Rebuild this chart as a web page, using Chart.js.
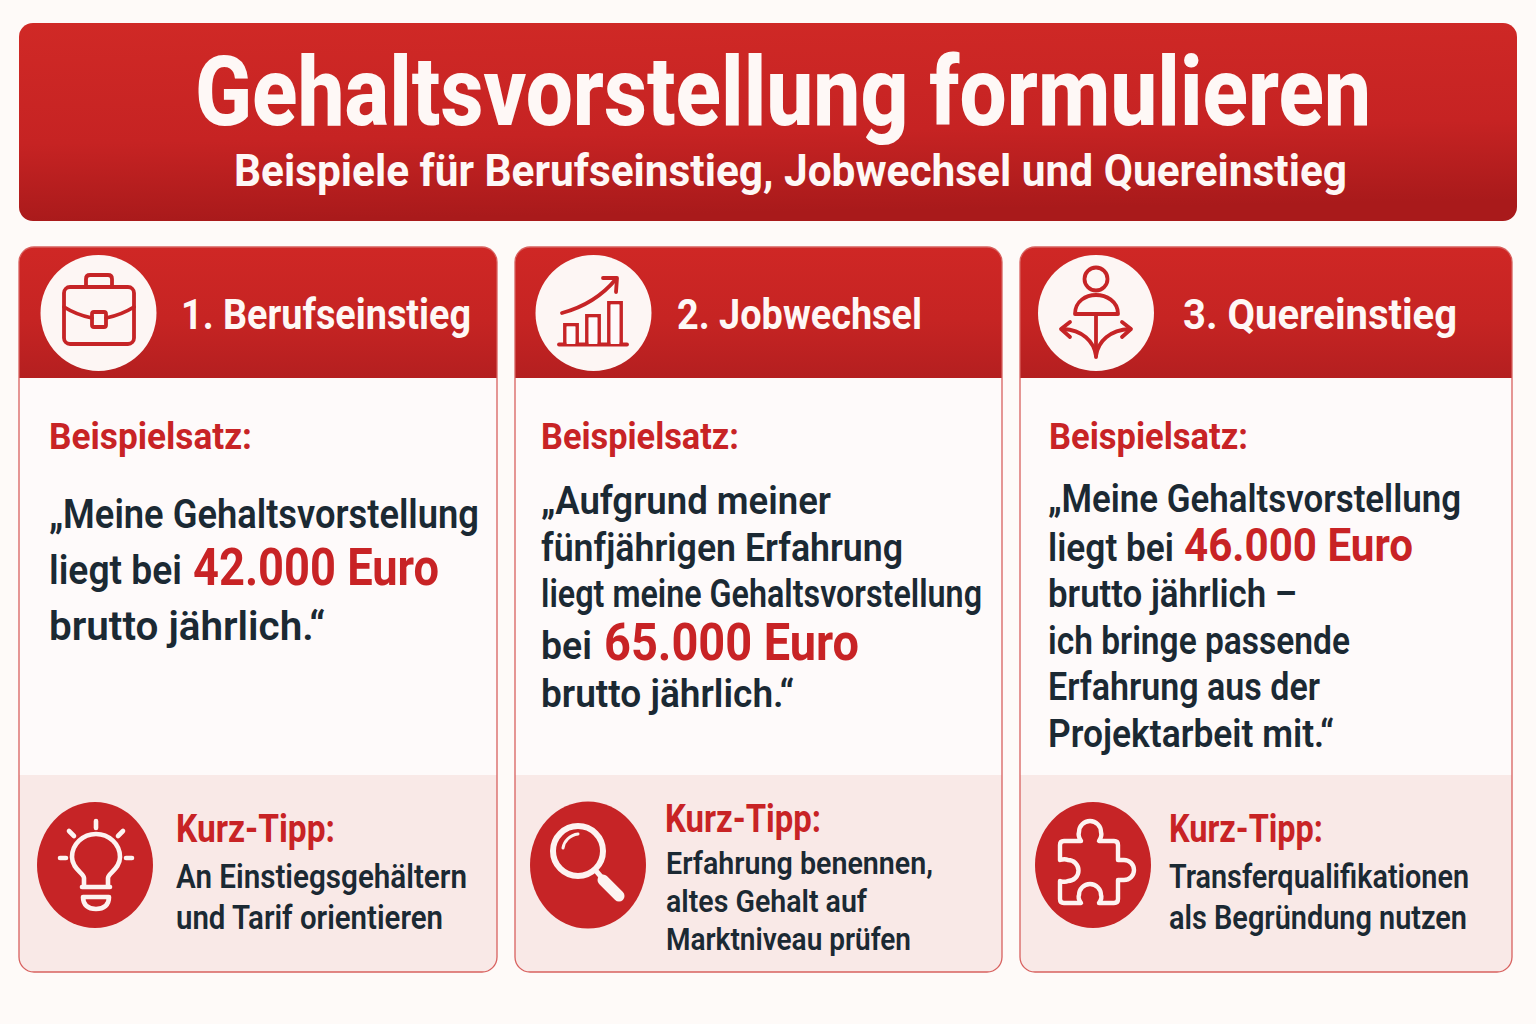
<!DOCTYPE html>
<html lang="de">
<head>
<meta charset="utf-8">
<title>Gehaltsvorstellung formulieren</title>
<script src="https://cdn.jsdelivr.net/npm/chart.js@4"></script>
<style>
html,body{margin:0;padding:0;background:#fefaf8;}
#page{position:relative;width:1536px;height:1024px;overflow:hidden;}
#art{position:absolute;left:0;top:0;}
#miniBars{position:absolute;left:560px;top:298px;}
text{font-family:Roboto,"Liberation Sans",sans-serif;}
</style>
</head>
<body>
<div id="page">
<svg id="art" width="1536" height="1024" viewBox="0 0 1536 1024" xmlns="http://www.w3.org/2000/svg">
  <defs>
    <linearGradient id="bannerFill" x1="0" y1="0" x2="0.12" y2="1">
      <stop offset="0" stop-color="#d02926"/>
      <stop offset="0.6" stop-color="#c62323"/>
      <stop offset="1" stop-color="#a91a1b"/>
    </linearGradient>
    <linearGradient id="headFill" x1="0" y1="0" x2="0" y2="1">
      <stop offset="0" stop-color="#cf2725"/>
      <stop offset="0.55" stop-color="#c62423"/>
      <stop offset="1" stop-color="#b41f20"/>
    </linearGradient>
    <clipPath id="clip1"><rect x="19" y="247" width="478" height="725" rx="15"/></clipPath>
    <clipPath id="clip2"><rect x="515" y="247" width="487" height="725" rx="15"/></clipPath>
    <clipPath id="clip3"><rect x="1020" y="247" width="492" height="725" rx="15"/></clipPath>
  </defs>

  <rect x="19" y="23" width="1498" height="198" rx="14" fill="url(#bannerFill)"/>

  <g id="cards"></g>

  <!-- Aktentasche -->
  <g fill="none" stroke="#c62426" stroke-width="3.8" stroke-linecap="round" stroke-linejoin="round">
    <rect x="64" y="287" width="70" height="57" rx="6"/>
    <path d="M86 287 V279 Q86 275 90 275 H108 Q112 275 112 279 V287"/>
    <path d="M64 307 C72 312 82 316 92 318 M106 318 C116 316 126 312 134 307"/>
    <rect x="92" y="312" width="14" height="15" rx="2"/>
  </g>

  <!-- Pfeil und Grundlinie ueber dem Balken-Icon -->
  <g fill="none" stroke="#c62426" stroke-width="3.8" stroke-linecap="round" stroke-linejoin="round">
    <path d="M562 313 C584 307 602 296 616 279"/>
    <path d="M603 278 H617 L616 292"/>
    <path d="M559 344.5 H627"/>
  </g>

  <!-- Person mit Wegen -->
  <g fill="none" stroke="#c62426" stroke-width="3.8" stroke-linecap="round" stroke-linejoin="round">
    <circle cx="1096" cy="279" r="11.5"/>
    <path d="M1075 314 C1075 301 1086 295 1096 295 C1106 295 1118 301 1118 314 Z"/>
    <path d="M1096 314 V357"/>
    <path d="M1096 356 C1094 341 1082 330 1063 329 M1096 356 C1098 341 1110 330 1130 329"/>
    <path d="M1070 322 L1061 329 L1070 337 M1122 322 L1131 329 L1122 337"/>
  </g>

  <!-- Gluehbirne -->
  <g fill="none" stroke="#fdf3f1" stroke-width="4.6" stroke-linecap="round" stroke-linejoin="round">
    <path d="M84 886 V878 C84 873 72 869 72 857 C72 844 83 834 96 834 C109 834 120 844 120 857 C120 869 108 873 108 878 V886"/>
    <path d="M82 887 H110"/>
    <path d="M83 897 H109 C109 905 104 909 96 909 C88 909 83 905 83 897 Z"/>
    <path d="M96 821 V828 M69 831 L74 836 M123 831 L118 836 M60 858 H66 M126 858 H132"/>
  </g>

  <!-- Lupe -->
  <g fill="none" stroke="#fdf3f1" stroke-linecap="round">
    <circle cx="578" cy="851" r="25" stroke-width="6"/>
    <path d="M563 848 C564 841 570 835 578 834" stroke-width="3"/>
    <path d="M597 872 L603 879" stroke-width="5"/>
    <path d="M603 880 L619 896" stroke-width="11"/>
  </g>

  <!-- Puzzleteil -->
  <path fill="none" stroke="#fdf3f1" stroke-width="4.4" stroke-linejoin="round"
    d="M1064 841 H1081 C1079 838 1078 835 1079 832 A11 11 0 0 1 1101 832 C1102 835 1101 838 1099 841 H1114 Q1118 841 1118 845 V860 C1120 860 1122 860 1124 860 A10 10 0 0 1 1124 880 C1122 880 1120 880 1118 880 V899 Q1118 903 1114 903 H1099 C1101 900 1102 897 1101 895 A11 11 0 0 0 1079 895 C1078 897 1079 900 1081 903 H1064 Q1060 903 1060 899 V881 C1063 882 1066 882 1068 881 A10.5 10.5 0 0 0 1068 860 C1066 859 1063 859 1060 860 V845 Q1060 841 1064 841 Z"/>

  <g id="labels"></g>
</svg>
<canvas id="miniBars" width="66" height="46"></canvas>
</div>

<script>
/* ==========================================
   DATEN
========================================== */
const barLabels = ["Stufe 1","Stufe 2","Stufe 3"];
const barValues = [21,30,43];

const salaries = [42000,65000,46000];

const cardTitles = ["1. Berufseinstieg","2. Jobwechsel","3. Quereinstieg"];

const RED = "#c82325";
const DARK = "#1b2933";
const WHITE = "#fef8f6";
const NS = "http://www.w3.org/2000/svg";

function euro(v){
  return v.toLocaleString("de-DE")+" Euro";
}

/* ==========================================
   FLAECHEN
========================================== */
function shape(parent,tag,attrs){
  const el = document.createElementNS(NS,tag);
  Object.keys(attrs).forEach(k=>el.setAttribute(k,attrs[k]));
  parent.appendChild(el);
  return el;
}

function drawCard(n,x,w,cx,tx,txRy){
  const g = document.getElementById("cards");
  const inner = shape(g,"g",{"clip-path":"url(#clip"+n+")"});
  shape(inner,"rect",{x:x,y:247,width:w,height:725,fill:"#fefafa"});
  shape(inner,"rect",{x:x,y:247,width:w,height:131,fill:"url(#headFill)"});
  shape(inner,"rect",{x:x,y:775,width:w,height:197,fill:"#f9e9e7"});
  shape(g,"rect",{x:x,y:247,width:w,height:725,rx:15,fill:"none",stroke:"#d8615f","stroke-width":1.3});
  shape(g,"circle",{cx:cx,cy:313,r:58,fill:"#fdf6f4"});
  shape(g,"ellipse",{cx:tx,cy:865,rx:58,ry:txRy,fill:"#c62426"});
}

drawCard(1,19,478,98.5,95,63);
drawCard(2,515,487,593.5,588,63.5);
drawCard(3,1020,492,1096,1093,63);

/* ==========================================
   TEXTE
========================================== */
function label(str,x,y,w,size,color,weight){
  const t = shape(document.getElementById("labels"),"text",{
    x:x,y:y,
    textLength:w,
    lengthAdjust:"spacingAndGlyphs",
    "font-size":size,
    "font-weight":weight||700,
    fill:color
  });
  t.textContent = str;
}

label("Gehaltsvorstellung formulieren",195,125,1176,96,WHITE,800);
label("Beispiele für Berufseinstieg, Jobwechsel und Quereinstieg",234,186,1113,45,WHITE);

label(cardTitles[0],181,329,290,43,WHITE);
label(cardTitles[1],677,329,245,43,WHITE);
label(cardTitles[2],1183,329,274,43,WHITE);

label("Beispielsatz:",49,449,203,37,RED);
label("Beispielsatz:",541,449,198,37,RED);
label("Beispielsatz:",1049,449,199,37,RED);

// Spalte 1
label("„Meine Gehaltsvorstellung",49,528,430,41,DARK,600);
label("liegt bei",49,584,133,41,DARK,600);
label(euro(salaries[0]),193,585,246,52,RED);
label("brutto jährlich.“",49,640,276,41,DARK,600);

// Spalte 2
label("„Aufgrund meiner",541,514,290,39,DARK,600);
label("fünfjährigen Erfahrung",541,561,362,39,DARK,600);
label("liegt meine Gehaltsvorstellung",541,607,441,38,DARK,600);
label("bei",541,659,51,39,DARK,600);
label(euro(salaries[1]),604,660,255,52,RED);
label("brutto jährlich.“",541,707,253,39,DARK,600);

// Spalte 3
label("„Meine Gehaltsvorstellung",1048,512,413,38,DARK,600);
label("liegt bei",1048,561,126,38,DARK,600);
label(euro(salaries[2]),1184,561,229,47,RED);
label("brutto jährlich –",1048,607,249,38,DARK,600);
label("ich bringe passende",1048,654,302,38,DARK,600);
label("Erfahrung aus der",1048,700,272,38,DARK,600);
label("Projektarbeit mit.“",1048,747,286,38,DARK,600);

// Kurz-Tipps
label("Kurz-Tipp:",176,842,159,38,RED);
label("An Einstiegsgehältern",176,888,291,33,DARK,600);
label("und Tarif orientieren",176,929,267,33,DARK,600);

label("Kurz-Tipp:",665,832,156,38,RED);
label("Erfahrung benennen,",666,874,267,32,DARK,600);
label("altes Gehalt auf",666,912,201,32,DARK,600);
label("Marktniveau prüfen",666,950,245,32,DARK,600);

label("Kurz-Tipp:",1169,842,154,38,RED);
label("Transferqualifikationen",1169,888,300,33,DARK,600);
label("als Begründung nutzen",1169,929,298,33,DARK,600);

/* ==========================================
   BALKEN IM JOBWECHSEL-ICON
========================================== */
new Chart(
  document.getElementById("miniBars"),
  {
    type:"bar",
    data:{
      labels:barLabels,
      datasets:[
        {
          data:barValues,
          backgroundColor:"#fefafa",
          borderColor:"#c62426",
          borderWidth:3.6,
          barPercentage:.72,
          categoryPercentage:1
        }
      ]
    },
    options:{
      responsive:false,
      animation:false,
      layout:{padding:0},
      plugins:{
        legend:{display:false},
        tooltip:{enabled:false}
      },
      scales:{
        x:{display:false},
        y:{display:false,min:0,max:46}
      }
    }
  }
);
</script>
</body>
</html>
